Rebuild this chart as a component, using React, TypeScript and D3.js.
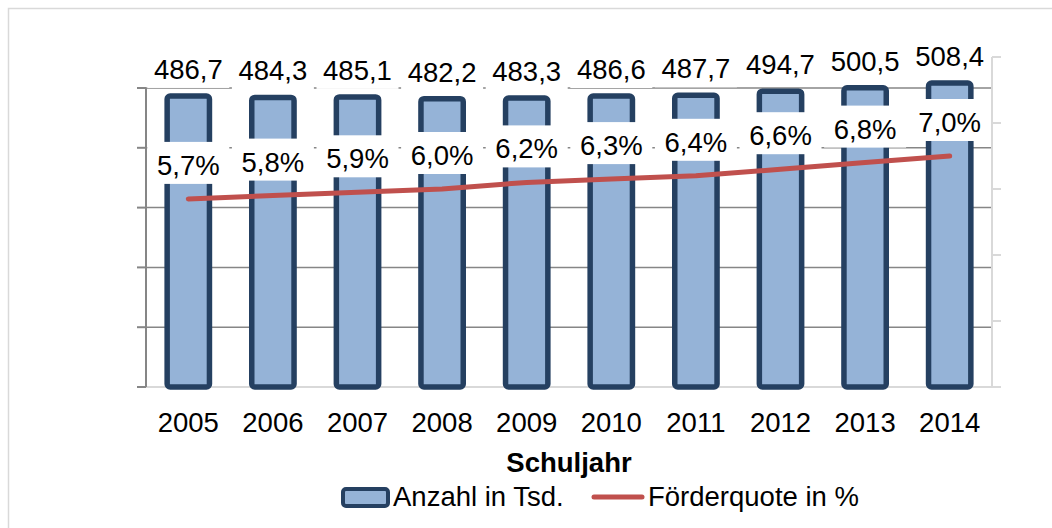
import React from "react";
import * as d3 from "d3";

const years = ["2005", "2006", "2007", "2008", "2009", "2010", "2011", "2012", "2013", "2014"];
const anzahl = [486.7, 484.3, 485.1, 482.2, 483.3, 486.6, 487.7, 494.7, 500.5, 508.4];
const quote = [5.7, 5.8, 5.9, 6.0, 6.2, 6.3, 6.4, 6.6, 6.8, 7.0];
const leftTicks = [0, 100, 200, 300, 400, 500];
const rightTicks = [0, 2, 4, 6, 8, 10];
const xTitle = "Schuljahr";
const legendBar = "Anzahl in Tsd.";
const legendLine = "Förderquote in %";

const W = 1052;
const H = 528;
const FONT = "'Liberation Sans', Arial, Helvetica, sans-serif";
const FS = 27.5;
const BAR_FILL = "#95B3D7";
const BAR_STROKE = "#254061";
const LINE = "#C0504D";
const GRID = "#868686";
const LIGHT = "#D9D9D9";

const plotL = 146;
const plotR = 992;
const plotB = 387;

const x = d3.scaleBand<string>().domain(years).range([plotL, plotR]).paddingInner(0.5).paddingOuter(0.25);
const yL = d3.scaleLinear().domain([0, 500]).range([plotB, 88]);
const yR = d3.scaleLinear().domain([0, 10]).range([plotB, 57]);

const fmt = (v: number) => v.toFixed(1).replace(".", ",");

export default function App() {
  const bw = x.bandwidth();
  const cx = (yr: string) => (x(yr) as number) + bw / 2;
  const lineGen = d3
    .line<number>()
    .x((_, i) => cx(years[i]))
    .y((d) => yR(d));
  const boxW = 82;

  return (
    <svg width={W} height={H} style={{ position: "absolute", left: 0, top: 0, background: "#fff" }} fontFamily={FONT}>
      <rect x={0} y={0} width={W} height={H} fill="#fff" />
      <rect x={8.5} y={8.5} width={1200} height={700} fill="#fff" stroke={LIGHT} strokeWidth={1.5} />

      {/* gridlines */}
      {leftTicks.filter((t) => t > 0).map((t) => (
        <line key={"g" + t} x1={plotL} x2={plotR} y1={yL(t)} y2={yL(t)} stroke={GRID} strokeWidth={1.5} />
      ))}
      <line x1={plotL} x2={plotR + 8} y1={plotB} y2={plotB} stroke={LIGHT} strokeWidth={2} />

      {/* left axis */}
      <line x1={plotL} x2={plotL} y1={yL(500)} y2={plotB} stroke={GRID} strokeWidth={2} />
      {leftTicks.map((t) => (
        <line key={"lt" + t} x1={plotL - 9} x2={plotL} y1={yL(t)} y2={yL(t)} stroke={GRID} strokeWidth={2} />
      ))}

      {/* right axis */}
      <line x1={plotR} x2={plotR} y1={yR(10)} y2={plotB} stroke={LIGHT} strokeWidth={2} />
      {rightTicks.map((t) => (
        <line key={"rt" + t} x1={plotR} x2={plotR + 9} y1={yR(t)} y2={yR(t)} stroke={LIGHT} strokeWidth={2} />
      ))}

      {/* bars */}
      {anzahl.map((v, i) => (
        <rect
          key={"b" + i}
          x={x(years[i])}
          y={yL(v)}
          width={bw}
          height={plotB - yL(v)}
          rx={3}
          fill={BAR_FILL}
          stroke={BAR_STROKE}
          strokeWidth={5.5}
        />
      ))}

      {/* line */}
      <path d={lineGen(quote) || ""} fill="none" stroke={LINE} strokeWidth={5} strokeLinecap="round" strokeLinejoin="round" />

      {/* value labels */}
      {anzahl.map((v, i) => {
        const base = yL(v) - 17;
        return (
          <g key={"vl" + i}>
            <rect x={cx(years[i]) - boxW / 2} y={base - 32} width={boxW} height={41} fill="#fff" />
            <text x={cx(years[i])} y={base} textAnchor="middle" fontSize={FS} fill="#000">
              {fmt(v)}
            </text>
          </g>
        );
      })}

      {/* percent labels */}
      {quote.map((v, i) => {
        const base = yR(v) - 24;
        return (
          <g key={"pl" + i}>
            <rect x={cx(years[i]) - boxW / 2} y={base - 33} width={boxW} height={42} fill="#fff" />
            <text x={cx(years[i])} y={base} textAnchor="middle" fontSize={FS} fill="#000">
              {fmt(v) + "%"}
            </text>
          </g>
        );
      })}

      {/* x labels */}
      {years.map((yr) => (
        <text key={"x" + yr} x={cx(yr)} y={432} textAnchor="middle" fontSize={FS} fill="#000">
          {yr}
        </text>
      ))}
      <text x={(plotL + plotR) / 2} y={472} textAnchor="middle" fontSize={FS} fontWeight="bold" fill="#000">
        {xTitle}
      </text>

      {/* legend */}
      <rect x={343} y={489} width={45} height={17} rx={3} fill={BAR_FILL} stroke={BAR_STROKE} strokeWidth={4} />
      <text x={393} y={506} fontSize={FS} fill="#000">
        {legendBar}
      </text>
      <line x1={594} x2={642} y1={497} y2={497} stroke={LINE} strokeWidth={5} strokeLinecap="round" />
      <text x={648} y={506} fontSize={FS} fill="#000">
        {legendLine}
      </text>
    </svg>
  );
}
